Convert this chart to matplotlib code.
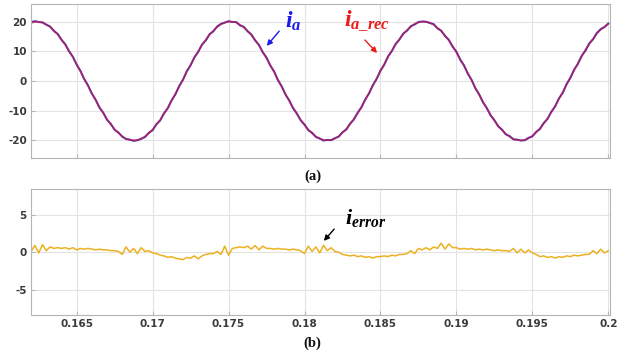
import numpy as np
import matplotlib
matplotlib.use("Agg")
import matplotlib.pyplot as plt

# ---- data ----
t_start, t_end = 0.162, 0.200
ia_rec = [19.6, 20.0, 20.0, 19.7, 19.1, 18.3, 17.1, 15.7, 14.1, 12.2,
          10.2, 8.0, 5.7, 3.2, 0.8, -1.7, -4.1, -6.5, -8.8, -10.9,
          -12.9, -14.7, -16.3, -17.6, -18.6, -19.5, -19.9, -20.0, -20.0, -19.6,
          -18.7, -17.7, -16.4, -14.8, -13.1, -11.1, -9.0, -6.7, -4.3, -1.9,
          0.6, 3.1, 5.5, 7.8, 10.0, 12.1, 13.9, 15.6, 17.0, 18.2,
          19.1, 19.8, 20.0, 20.0, 19.8, 19.0, 18.1, 17.0, 15.5, 13.9,
          12.0, 9.9, 7.7, 5.4, 3.0, 0.5, -2.0, -4.4, -6.8, -9.0,
          -11.2, -13.1, -14.9, -16.4, -17.7, -18.7, -19.5, -19.9, -20.0, -19.9,
          -19.5, -18.6, -17.5, -16.2, -14.6, -12.8, -10.9, -8.7, -6.4, -4.0,
          -1.6, 0.9, 3.3, 5.7, 8.1, 10.3, 12.3, 14.2, 15.8, 17.2,
          18.3, 19.3, 19.8, 20.0, 20.0, 19.7, 19.0, 18.0, 16.8, 15.4,
          13.7, 11.8, 9.7, 7.4, 5.1, 2.7, 0.2, -2.3, -4.7, -7.0,
          -9.3, -11.4, -13.4, -15.1, -16.6, -17.8, -18.8, -19.6, -19.9, -20.0,
          -19.9, -19.4, -18.5, -17.4, -16.0, -14.4, -12.6, -10.6, -8.4, -6.1,
          -3.8, -1.3, 1.2, 3.6, 6.0, 8.3, 10.5, 12.5, 14.3, 16.0,
          17.3, 18.4, 19.2]
ia = [19.9, 20.2, 19.9, 19.8, 19.0, 18.4, 16.9, 15.9, 13.9, 12.4,
      10.0, 8.2, 5.5, 3.4, 0.6, -1.5, -4.3, -6.3, -9.0, -10.7,
      -13.1, -14.5, -16.5, -17.4, -18.8, -19.6, -19.8, -20.2, -20.0, -19.5,
      -18.9, -17.5, -16.6, -14.6, -13.3, -10.9, -9.2, -6.5, -4.5, -1.7,
      0.4, 3.3, 5.3, 8.0, 9.8, 12.3, 13.7, 15.8, 16.8, 18.4,
      19.3, 19.7, 20.2, 19.9, 19.9, 18.8, 18.3, 16.8, 15.7, 13.7,
      12.2, 9.7, 7.9, 5.2, 3.2, 0.3, -1.8, -4.6, -6.6, -9.2,
      -11.0, -13.3, -14.7, -16.6, -17.5, -18.9, -19.4, -20.1, -19.9, -20.0,
      -19.3, -18.8, -17.3, -16.4, -14.4, -13.0, -10.7, -8.9, -6.2, -4.2,
      -1.4, 0.7, 3.5, 5.5, 8.3, 10.1, 12.5, 14.0, 16.0, 17.0,
      18.5, 19.1, 19.9, 20.1, 20.0, 19.6, 19.2, 17.8, 17.0, 15.2,
      13.9, 11.6, 9.9, 7.2, 5.3, 2.5, 0.4, -2.5, -4.5, -7.2,
      -9.1, -11.6, -13.2, -15.3, -16.4, -18.0, -18.6, -19.7, -19.8, -20.1,
      -20.0, -19.2, -18.7, -17.2, -16.2, -14.2, -12.8, -10.4, -8.6, -5.9,
      -4.0, -1.1, 1.0, 3.8, 5.8, 8.5, 10.3, 12.7, 14.1, 16.2,
      17.5, 18.2, 19.4]
i_error = [0.1, 0.9, -0.1, 1.0, 0.2,
           0.7, 0.5, 0.6,
           0.5, 0.6, 0.4, 0.6,
           0.3, 0.5, 0.4, 0.5,
           0.4, 0.3, 0.4, 0.3,
           0.3, 0.2, 0.2, 0.1,
           -0.3, 0.7, 0.0, 0.5, -0.2, 0.6, 0.1,
           0.2, -0.1, -0.2,
           -0.4, -0.5, -0.7, -0.6, -0.8, -0.9,
           -1.0, -0.7, -0.8, -0.5, -0.9, -0.5,
           -0.3, -0.2, -0.2, 0.1,
           -0.3, 0.8, -0.4, 0.5,
           0.6, 0.7, 0.6, 0.8,
           0.4, 0.9, 0.3, 0.8, 0.5,
           0.5, 0.4, 0.5, 0.4, 0.4, 0.3, 0.4, 0.3,
           0.2, -0.2, 0.8, 0.1, 0.7, -0.1, 0.9, 0.2, 0.6, 0.1, 0.0,
           -0.3, -0.4, -0.5, -0.4, -0.6, -0.5, -0.7, -0.6, -0.8, -0.6,
           -0.6, -0.5, -0.6, -0.4, -0.5, -0.3, -0.3, -0.2,
           0.2, -0.2, 0.5, 0.3, 0.6, 0.3, 0.7, 0.5,
           1.2, 0.4, 1.1, 0.6,
           0.6, 0.4, 0.5, 0.4, 0.5, 0.3, 0.4, 0.3, 0.4, 0.3,
           0.2, 0.3, 0.2, 0.2, 0.1,
           0.5, -0.1, 0.4, -0.1, 0.3,
           -0.1, -0.3, -0.6, -0.5, -0.7, -0.6, -0.8, -0.6, -0.7, -0.5,
           -0.6, -0.4, -0.5, -0.4, -0.3, -0.3,
           0.2, -0.2, 0.4, -0.1, 0.2]
x_ticks = [0.165, 0.17, 0.175, 0.18, 0.185, 0.19, 0.195, 0.2]
x_ticklabels = ["0.165", "0.17", "0.175", "0.18", "0.185", "0.19", "0.195", "0.2"]
top_yticks = [-20, -10, 0, 10, 20]
bot_yticks = [-5, 0, 5]

t_i = np.linspace(t_start, t_end, len(ia))
t_r = np.linspace(t_start, t_end, len(ia_rec))
t_e = np.linspace(t_start, t_end, len(i_error))

plt.rcParams['mathtext.fontset'] = 'custom'
plt.rcParams['mathtext.it'] = 'Liberation Serif:italic:bold'
plt.rcParams['mathtext.rm'] = 'Liberation Serif:bold'

fig = plt.figure(figsize=(6.21, 3.58), dpi=100)
W, H = 621, 358
def ax_rect(l, r, top, bot):
    return [l / W, 1 - bot / H, (r - l) / W, (bot - top) / H]

ax1 = fig.add_axes(ax_rect(31.1, 609.5, 4, 158))
ax2 = fig.add_axes(ax_rect(31.1, 609.5, 189.3, 315))

tick_col = '#3a3a3a'
for ax in (ax1, ax2):
    ax.set_xlim(t_start, 0.20008)
    ax.set_xticks(x_ticks)
    ax.grid(True, color='#e3e3e3', lw=0.8)
    ax.set_axisbelow(True)
    for s in ax.spines.values():
        s.set_color('#b5b5b5')
        s.set_linewidth(0.8)
    ax.tick_params(direction='in', length=3, color='#b5b5b5',
                   labelsize=7.5, labelcolor=tick_col, pad=3)

ax1.plot(t_i, ia, color='#3a2aa8', lw=1.4)
ax1.plot(t_r, ia_rec, color='#e8204a', lw=1.3, alpha=0.55)
ax1.set_ylim(-26, 26)
ax1.set_yticks(top_yticks)
ax1.set_yticklabels([str(v) for v in top_yticks], fontweight='bold')
ax1.set_xticklabels([])

ax2.plot(t_e, i_error, color='#EDB120', lw=1.1)
ax2.set_ylim(-8.4, 8.4)
ax2.set_yticks(bot_yticks)
ax2.set_yticklabels([str(v) for v in bot_yticks], fontweight='bold')
ax2.set_xticklabels(x_ticklabels, fontweight='bold')

# annotations (figure-pixel placement)
def fx(px):
    return px / W
def fy(py):
    return 1 - py / H

fig.text(fx(293), fy(21), r'$i_{a}$', color='#1a1aee', fontsize=17,
         ha='center', va='center')
ax1.annotate('', xy=(fx(265), fy(48)), xytext=(fx(281), fy(29)),
             xycoords='figure fraction', textcoords='figure fraction',
             arrowprops=dict(arrowstyle='-|>', color='#1a1aee', lw=1.0,
                             mutation_scale=8))
fig.text(fx(367), fy(21), r'$i_{a\_rec}$', color='#ee1a1a', fontsize=17,
         ha='center', va='center')
ax1.annotate('', xy=(fx(379), fy(55)), xytext=(fx(363), fy(38)),
             xycoords='figure fraction', textcoords='figure fraction',
             arrowprops=dict(arrowstyle='-|>', color='#ee1a1a', lw=1.0,
                             mutation_scale=8))
fig.text(fx(366), fy(218), r'$i_{error}$', color='black', fontsize=16,
         ha='center', va='center')
ax2.annotate('', xy=(fx(322), fy(243)), xytext=(fx(336), fy(227)),
             xycoords='figure fraction', textcoords='figure fraction',
             arrowprops=dict(arrowstyle='-|>', color='black', lw=1.0,
                             mutation_scale=8))

fig.text(fx(313), fy(176), '(a)', family='Liberation Serif', fontweight='bold',
         fontsize=10.5, ha='center', va='center', color='#111111')
fig.text(fx(312), fy(343), '(b)', family='Liberation Serif', fontweight='bold',
         fontsize=10.5, ha='center', va='center', color='#111111')

fig.savefig('out.png', dpi=100)
